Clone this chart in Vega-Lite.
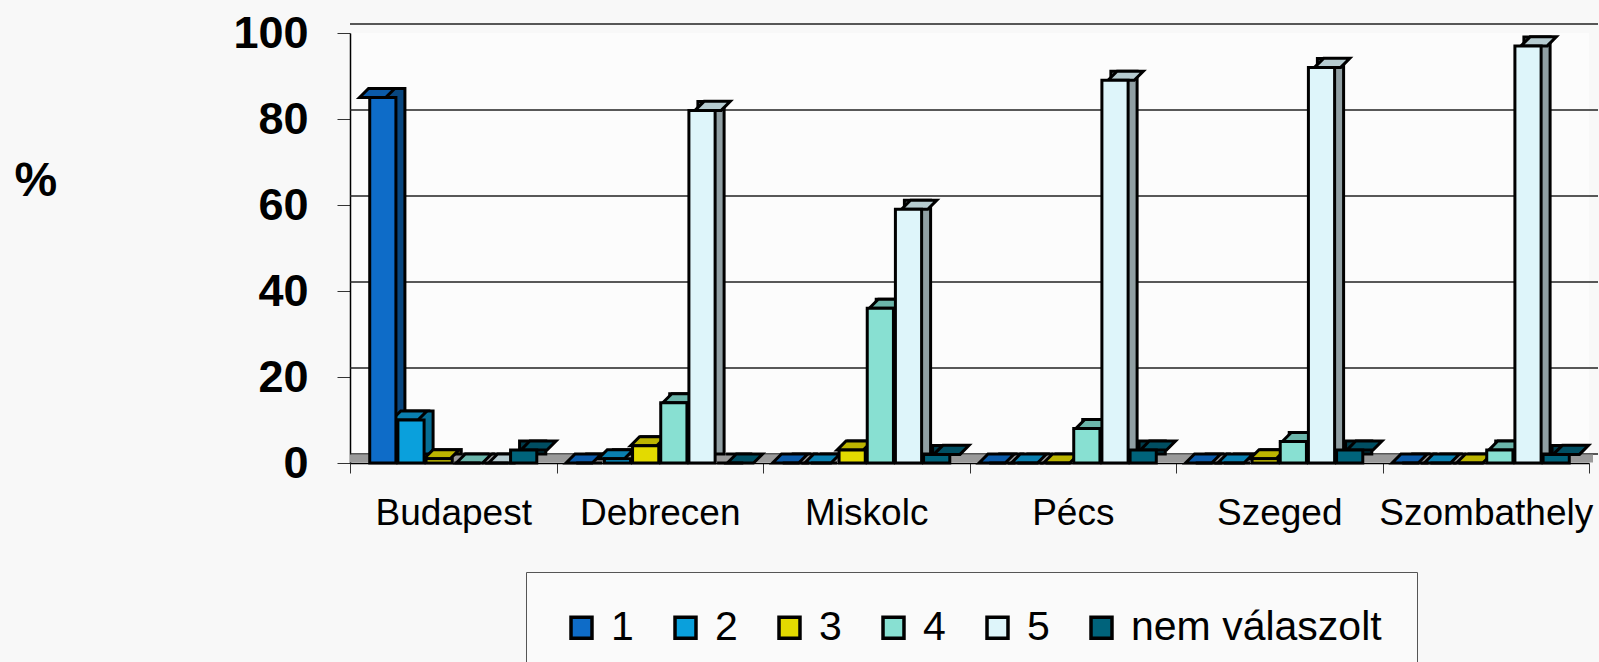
{
  "$schema": "https://vega.github.io/schema/vega-lite/v6.json",
  "width": 1239,
  "height": 430,
  "autosize": "none",
  "padding": {"left": 350, "top": 33, "right": 10, "bottom": 199},
  "background": "#f8f8f8",
  "config": {
    "view": {"stroke": null, "fill": "#fcfcfc"},
    "font": "Liberation Sans"
  },
  "datasets": {
    "bars": [
      {"city": "Budapest", "series": "1", "value": 85},
      {"city": "Budapest", "series": "2", "value": 10},
      {"city": "Budapest", "series": "3", "value": 1},
      {"city": "Budapest", "series": "4", "value": 0},
      {"city": "Budapest", "series": "5", "value": 0},
      {"city": "Budapest", "series": "nem válaszolt", "value": 3},
      {"city": "Debrecen", "series": "1", "value": 0},
      {"city": "Debrecen", "series": "2", "value": 1},
      {"city": "Debrecen", "series": "3", "value": 4},
      {"city": "Debrecen", "series": "4", "value": 14},
      {"city": "Debrecen", "series": "5", "value": 82},
      {"city": "Debrecen", "series": "nem válaszolt", "value": 0},
      {"city": "Miskolc", "series": "1", "value": 0},
      {"city": "Miskolc", "series": "2", "value": 0},
      {"city": "Miskolc", "series": "3", "value": 3},
      {"city": "Miskolc", "series": "4", "value": 36},
      {"city": "Miskolc", "series": "5", "value": 59},
      {"city": "Miskolc", "series": "nem válaszolt", "value": 2},
      {"city": "Pécs", "series": "1", "value": 0},
      {"city": "Pécs", "series": "2", "value": 0},
      {"city": "Pécs", "series": "3", "value": 0},
      {"city": "Pécs", "series": "4", "value": 8},
      {"city": "Pécs", "series": "5", "value": 89},
      {"city": "Pécs", "series": "nem válaszolt", "value": 3},
      {"city": "Szeged", "series": "1", "value": 0},
      {"city": "Szeged", "series": "2", "value": 0},
      {"city": "Szeged", "series": "3", "value": 1},
      {"city": "Szeged", "series": "4", "value": 5},
      {"city": "Szeged", "series": "5", "value": 92},
      {"city": "Szeged", "series": "nem válaszolt", "value": 3},
      {"city": "Szombathely", "series": "1", "value": 0},
      {"city": "Szombathely", "series": "2", "value": 0},
      {"city": "Szombathely", "series": "3", "value": 0},
      {"city": "Szombathely", "series": "4", "value": 3},
      {"city": "Szombathely", "series": "5", "value": 97},
      {"city": "Szombathely", "series": "nem válaszolt", "value": 2}
    ],
    "grid": [{"v": 0}, {"v": 20}, {"v": 40}, {"v": 60}, {"v": 80}, {"v": 100}]
  },
  "resolve": {"scale": {"color": "independent", "xOffset": "independent"}},
  "layer": [
    {
      "data": {"name": "grid"},
      "mark": {"type": "rule", "color": "#222222", "strokeWidth": 1.5, "xOffset": 9, "yOffset": -9},
      "encoding": {
        "y": {"field": "v", "type": "quantitative", "scale": {"domain": [0, 100]}}
      }
    },
    {
      "data": {"name": "grid"},
      "transform": [{"filter": "datum.v == 0"}],
      "mark": {"type": "rule", "color": "#9a9a9a", "strokeWidth": 8, "yOffset": -4.5, "xOffset": 4},
      "encoding": {
        "y": {"field": "v", "type": "quantitative"}
      }
    },
    {
      "data": {"name": "bars"},
      "mark": {"type": "bar", "yOffset": -9, "y2Offset": 0, "stroke": "black", "strokeWidth": 3, "opacity": 1},
      "encoding": {
        "x": {"field": "city", "type": "nominal", "sort": null},
        "xOffset": {"field": "series", "type": "nominal", "scale": {"paddingInner": 0.07, "paddingOuter": 0.7, "align": 0.728}},
        "y": {"field": "value", "type": "quantitative"},
        "color": {
          "field": "series", "type": "nominal", "legend": null,
          "scale": {"domain": ["1", "2", "3", "4", "5", "nem válaszolt"], "range": ["#08467f", "#066e95", "#8d8700", "#5c9a90", "#909fa3", "#003d4d"]}
        }
      }
    },
    {
      "data": {"name": "bars"},
      "mark": {"type": "point", "filled": true, "opacity": 1, "stroke": "black", "strokeWidth": 3, "shape": "M -1 0 L -0.31 -0.69 L 1.69 -0.69 L 1 0 Z", "size": 686},
      "encoding": {
        "x": {"field": "city", "type": "nominal", "sort": null},
        "xOffset": {"field": "series", "type": "nominal", "scale": {"paddingInner": 0.07, "paddingOuter": 0.7}},
        "y": {"field": "value", "type": "quantitative"},
        "color": {
          "field": "series", "type": "nominal", "legend": null,
          "scale": {"domain": ["1", "2", "3", "4", "5", "nem válaszolt"], "range": ["#0b5aa8", "#0a7fb0", "#bcb400", "#6bb5aa", "#b6cbd0", "#004e62"]}
        }
      }
    },
    {
      "data": {"name": "bars"},
      "mark": {"type": "bar", "stroke": "black", "strokeWidth": 3, "opacity": 1},
      "encoding": {
        "x": {
          "field": "city", "type": "nominal", "sort": null,
          "scale": {"paddingInner": 0, "paddingOuter": 0},
          "axis": {
            "title": null, "labelAngle": 0, "labelAlign": "center", "labelFontSize": 37, "labelColor": "black",
            "tickBand": "extent", "tickSize": 10, "tickColor": "#333", "labelPadding": 40,
            "domainColor": "black", "domainWidth": 1.5, "grid": false, "labelLimit": 400
          }
        },
        "xOffset": {
          "field": "series", "type": "nominal",
          "scale": {"paddingInner": 0.07, "paddingOuter": 0.7}
        },
        "y": {
          "field": "value", "type": "quantitative",
          "scale": {"domain": [0, 100]},
          "axis": {
            "values": [0, 20, 40, 60, 80, 100], "grid": false,
            "labelFontSize": 45, "labelFontWeight": "bold", "labelColor": "black",
            "tickSize": 13, "tickColor": "#333", "labelPadding": 29,
            "domainColor": "black", "domainWidth": 1.5,
            "title": "%", "titleAngle": 0, "titleFontSize": 48, "titleFontWeight": "bold",
            "titleColor": "black", "titleX": -336, "titleY": 148, "titleAlign": "left", "titleBaseline": "middle"
          }
        },
        "color": {
          "field": "series", "type": "nominal",
          "scale": {"domain": ["1", "2", "3", "4", "5", "nem válaszolt"], "range": ["#0e6cc8", "#0aa0dc", "#e3da00", "#88e0d2", "#def5fa", "#00637b"]},
          "legend": {
            "title": null, "orient": "none", "legendX": 176, "legendY": 539,
            "direction": "horizontal", "symbolType": "square", "symbolSize": 440,
            "symbolStrokeColor": "black", "symbolStrokeWidth": 3.5, "symbolOpacity": 1,
            "labelFontSize": 41, "labelColor": "black", "labelOffset": 9,
            "columnPadding": 31, "padding": 35, "strokeColor": "#555", "fillColor": "#fafafa",
            "labelLimit": 400
          }
        }
      }
    }
  ]
}
